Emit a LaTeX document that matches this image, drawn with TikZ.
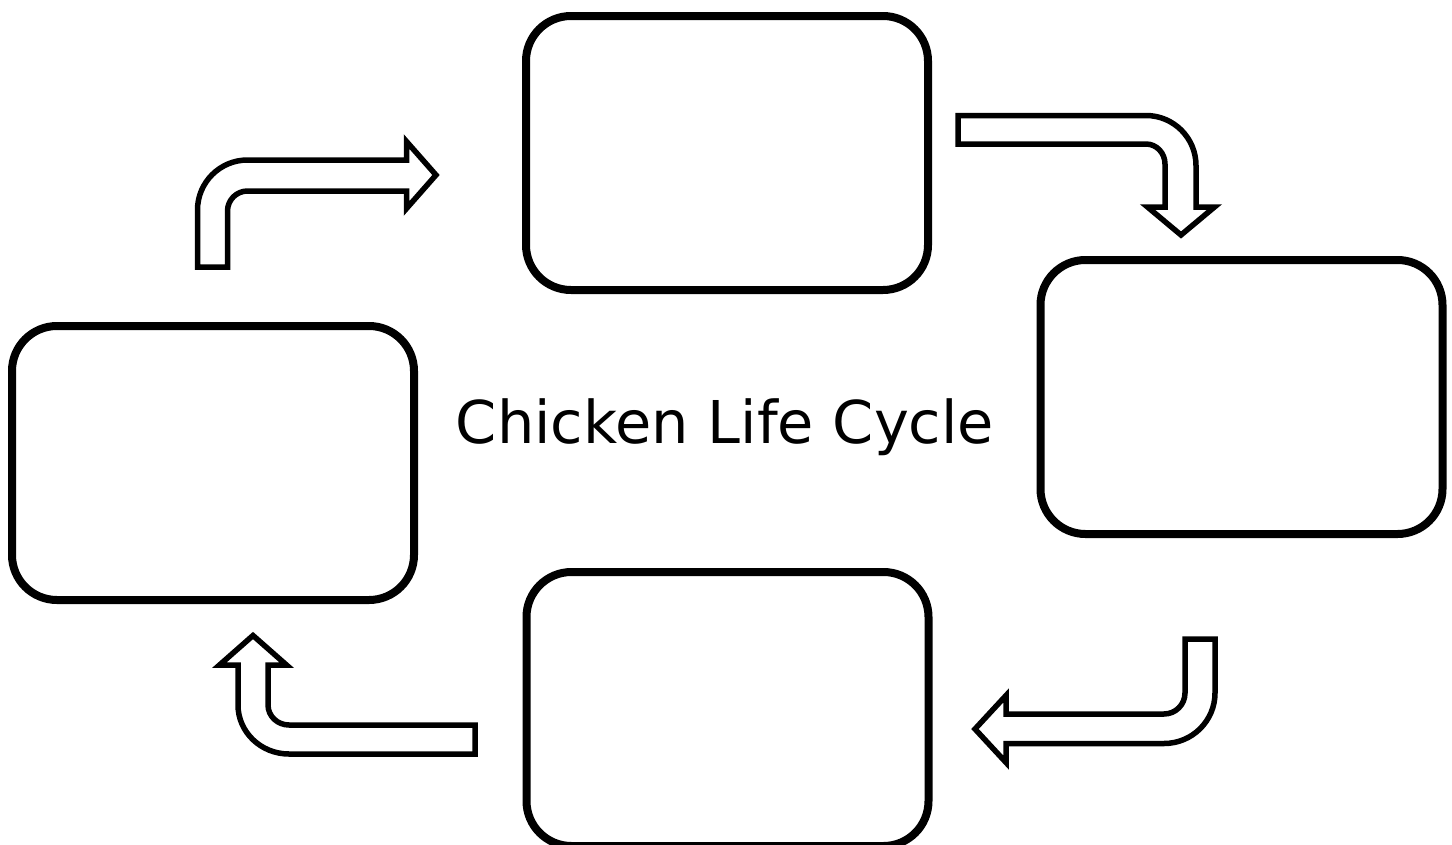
\documentclass[tikz,border=0pt]{standalone}
\usepackage{fontspec}
\setmainfont{DejaVu Sans}
\begin{document}
\begin{tikzpicture}[x=1pt,y=-1pt,
  stagebox/.style={draw=black,line width=8pt,rounded corners=45pt,
    minimum width=402pt,minimum height=274pt,inner sep=0pt,fill=white},
  bentarrow/.style={draw=black,line width=5.5pt,line join=miter,fill=white},
  titletext/.style={font=\fontsize{59}{70}\selectfont,inner sep=0pt,anchor=base}]
\useasboundingbox (0,0) rectangle (1452,844);
% stage boxes
\node[stagebox] (topbox) at (727,153) {};
\node[stagebox] (rightbox) at (1241.5,397) {};
\node[stagebox] (bottombox) at (727.5,709) {};
\node[stagebox] (leftbox) at (213,463) {};
% title
\node[titletext] (title) at (725,443) {Chicken Life Cycle};
% arrow: left box -> top box
\draw[bentarrow] (197.5,267) -- (197.5,210)
  .. controls (197.5,182.4) and (219.9,160) .. (247.5,160)
  -- (406.5,160) -- (406.5,141.5) -- (436,175) -- (406.5,208.5) -- (406.5,191)
  -- (247.5,191) .. controls (236.5,191) and (227.5,200) .. (227.5,211)
  -- (227.5,267) -- cycle;
% arrow: top box -> right box
\draw[bentarrow] (958,115.5) -- (1146,115.5)
  .. controls (1173.6,115.5) and (1196,137.9) .. (1196,165.5)
  -- (1196,207) -- (1214.5,207) -- (1181,235) -- (1147.5,207) -- (1165,207)
  -- (1165,164) .. controls (1165,153) and (1156.5,144) .. (1146,144)
  -- (958,144) -- cycle;
% arrow: right box -> bottom box
\draw[bentarrow] (1185,639) -- (1215,639) -- (1215,693)
  .. controls (1215,720.9) and (1192.2,743.5) .. (1164,743.5)
  -- (1006,743.5) -- (1006,762.5) -- (975,729) -- (1006,695.5) -- (1006,714)
  -- (1164,714) .. controls (1175.6,714) and (1185,704.6) .. (1185,693)
  -- cycle;
% arrow: bottom box -> left box
\draw[bentarrow] (475,725) -- (475,754) -- (289,754)
  .. controls (260.8,754) and (238,732) .. (238,705)
  -- (238,665) -- (219.5,665) -- (253,635.5) -- (286.5,665) -- (268,665)
  -- (268,705) .. controls (268,716) and (277.4,725) .. (289,725)
  -- cycle;
\end{tikzpicture}
\end{document}
